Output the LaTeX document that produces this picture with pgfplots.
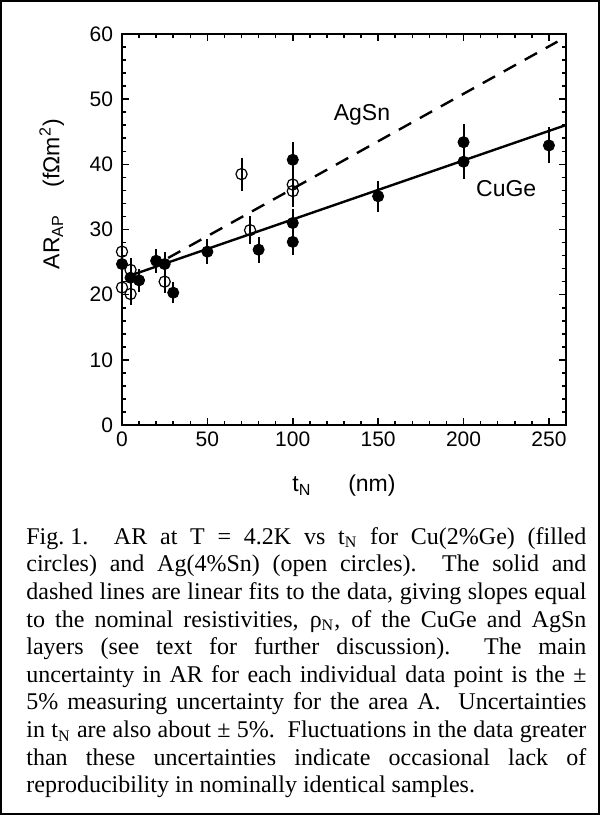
\documentclass[border=0pt]{standalone}
\usepackage{fontspec}
\setmainfont{Liberation Serif}
\newfontfamily\arial{Liberation Sans}
\usepackage{pgfplots}
\pgfplotsset{compat=1.18}

\begin{document}
\begin{tikzpicture}
\useasboundingbox (0,0) rectangle (300pt,407.5pt);
\draw[line width=1pt] (0.5pt,0.5pt) rectangle (299.5pt,407pt);
\begin{axis}[scale only axis,width=222pt,height=195.5pt,
 at={(61pt,195pt)},anchor=south west,clip=false,
 xmin=0,xmax=260,ymin=0,ymax=60,
 xtick={0,50,...,250},ytick={0,10,...,60},
 minor x tick num=4,minor y tick num=4,
 tick align=inside,major tick length=3.5pt,minor tick length=2pt,
 axis line style={line width=1pt},tick style={line width=0.8pt,black},
 /pgf/number format/assume math mode=true,
 tick label style={font=\arial\fontsize{10.5}{12}\selectfont},
 yticklabel style={xshift=-1pt},
 label style={font=\arial\fontsize{11.5}{13}\selectfont},
 xlabel={t\textsubscript{N}\hspace{1.6em}(nm)},
 ylabel={AR\textsubscript{AP}\hspace{1.2em}(fΩm\textsuperscript{2})},
 xlabel style={at={(axis description cs:0.5,-0.155)},anchor=center},
 ylabel style={at={(axis description cs:-0.158,0.59)},anchor=center}]

% linear fits
\addplot[black,line width=1.2pt] coordinates {(5,22.95)(260,46.03)};
\addplot[black,line width=1.2pt,dash pattern=on 7pt off 5pt] coordinates {(27,25.63)(255,58.83)};

% CuGe, filled
\addplot[black,only marks,mark=*,mark size=2.8pt,
 error bars/.cd,y dir=both,y explicit,
 error bar style={line width=1pt},error mark options={line width=1pt,mark size=2pt}]
 table[x=t,y=ar,y error=e] {
t ar e
0 24.7 1.24
5 22.6 1.13
10 22.2 1.11
20 25.2 1.26
25 24.7 1.24
30 20.3 1.02
50 26.6 1.33
80 26.9 1.35
100 40.7 2.04
100 31.0 1.55
100 28.1 1.41
150 35.1 1.76
200 43.4 2.17
200 40.4 2.02
250 42.9 2.15
};

% AgSn, open
\addplot[black,only marks,mark=o,mark size=2.8pt,mark options={fill=white,line width=0.6pt},
 error bars/.cd,y dir=both,y explicit,
 error bar style={line width=1pt},error mark options={line width=1pt,mark size=2pt}]
 table[x=t,y=ar,y error=e] {
t ar e
0 26.6 1.33
0 21.1 1.06
5 23.8 1.19
5 20.1 1.01
25 22.0 1.10
70 38.5 1.93
75 29.9 1.50
100 36.9 1.85
100 35.9 1.80
};

\node[font=\arial\fontsize{11.5}{13}\selectfont] at (axis cs:140.5,47.6) {AgSn};
\node[font=\arial\fontsize{11.5}{13}\selectfont] at (axis cs:225,36.3) {CuGe};
\end{axis}

\node[anchor=north west,inner sep=0,text width=280pt,align=justify,
 font=\fontsize{12}{13.8}\selectfont] at (13pt,144pt) {%
Fig.\kern0.25em1.\ \ AR at T = 4.2K vs t\textsubscript{N} for Cu(2\%Ge) (filled\linebreak
circles) and Ag(4\%Sn) (open circles).\ \ The solid and\linebreak
dashed lines are linear fits to the data, giving slopes equal\linebreak
to the nominal resistivities, ρ\textsubscript{N}, of the CuGe and AgSn\linebreak
layers (see text for further discussion).\ \ The main\linebreak
uncertainty in AR for each individual data point is the ±\linebreak
5\% measuring uncertainty for the area A.\ \ Uncertainties\linebreak
in t\textsubscript{N} are also about ± 5\%.\ \ Fluctuations in the data greater\linebreak
than these uncertainties indicate occasional lack of\linebreak
reproducibility in nominally identical samples.};
\end{tikzpicture}
\end{document}
